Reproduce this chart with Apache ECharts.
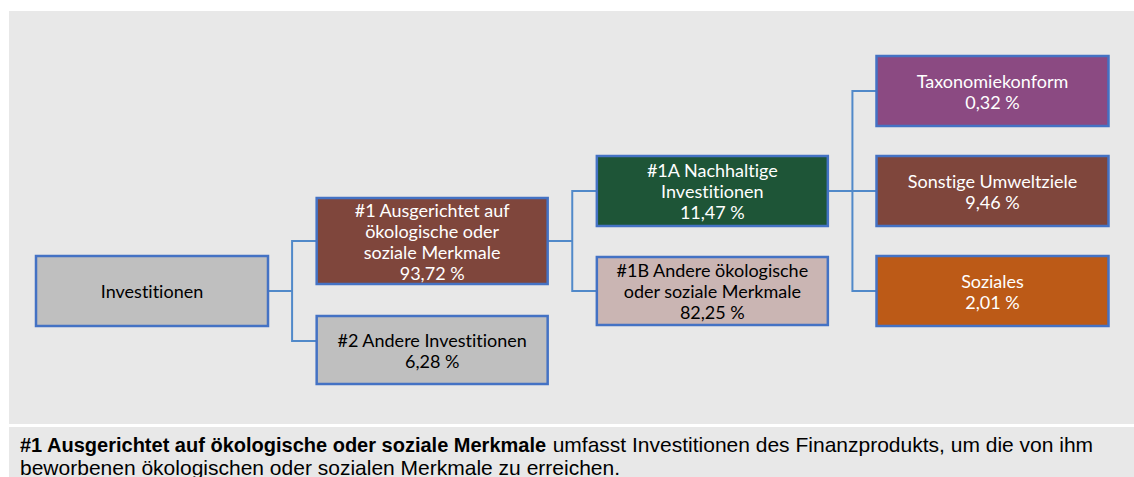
<!DOCTYPE html>
<html>
<head>
<meta charset="utf-8">
<script src="https://cdn.jsdelivr.net/npm/echarts@6/dist/echarts.min.js"></script>
<style>
  html, body { margin: 0; padding: 0; background: #fff; }
  #chart { width: 1134px; height: 477px; }
  #chart text { font-variant-ligatures: none; }
</style>
</head>
<body>
<div id="chart"></div>
<script>
const names = [
  'Investitionen',
  '#1 Ausgerichtet auf\nökologische oder\nsoziale Merkmale',
  '#2 Andere Investitionen',
  '#1A Nachhaltige\nInvestitionen',
  '#1B Andere ökologische\noder soziale Merkmale',
  'Taxonomiekonform',
  'Sonstige Umweltziele',
  'Soziales'
]
const shares = [null, 93.72, 6.28, 11.47, 82.25, 0.32, 9.46, 2.01]
const parents = [-1, 0, 0, 1, 1, 3, 3, 3]
const footnoteTitle = '#1 Ausgerichtet auf ökologische oder soziale Merkmale'
const footnoteText = ' umfasst Investitionen des Finanzprodukts, um die von ihm\nbeworbenen ökologischen oder sozialen Merkmale zu erreichen.'

// look of each box
const fills = ['#bfbfbf', '#7f463c', '#bfbfbf', '#1e5537', '#cab5b3', '#8b4a82', '#7f463c', '#bc5a17']
const textColors = ['#000', '#fff', '#000', '#fff', '#000', '#fff', '#fff', '#fff']
const boxSizes = [[232, 70], [231, 86], [231, 68], [231, 70], [231, 68], [232, 70], [232, 70], [232, 70]]
const lineH = 21

function formatShare (v) {
  return v.toFixed(2).replace('.', ',') + ' %'
}

let nodes = names.map(function (name, i) {
  let text = shares[i] == null ? name : name + '\n' + formatShare(shares[i])
  let lines = text.split('\n').length
  return {
    name: text,
    value: shares[i],
    symbolSize: boxSizes[i],
    itemStyle: { color: fills[i] },
    // the label box draws the blue frame, so the border keeps one width all round
    label: {
      color: textColors[i],
      width: boxSizes[i][0],
      padding: [(boxSizes[i][1] - lines * lineH) / 2, 0]
    },
    children: []
  }
})
for (let i = 1; i < nodes.length; i++) {
  nodes[parents[i]].children.push(nodes[i])
}
// the tree layout puts #2 a bit higher than the original box
nodes[2].symbolOffset = [0, 9]

let chart = echarts.init(document.getElementById('chart'), null, { renderer: 'svg' })
chart.setOption({
  animation: false,
  graphic: [
    { type: 'rect', z: 0, shape: { x: 9, y: 11, width: 1125, height: 413 }, style: { fill: '#e8e8e8' } },
    { type: 'rect', z: 0, shape: { x: 9, y: 427, width: 1125, height: 50 }, style: { fill: '#e8e8e8' } },
    {
      type: 'text',
      z: 1,
      x: 20,
      y: 433,
      style: {
        text: '{b|' + footnoteTitle + '}' + footnoteText,
        fill: '#000',
        fontFamily: 'Liberation Sans',
        fontSize: 21,
        lineHeight: 23,
        rich: {
          b: { fontWeight: 'bold', fontFamily: 'Liberation Sans', fontSize: 20, lineHeight: 23 }
        }
      }
    }
  ],
  series: [{
    type: 'tree',
    data: [nodes[0]],
    orient: 'LR',
    left: 152,
    right: 141.5,
    top: -9,
    height: 450,
    symbol: 'rect',
    edgeShape: 'polyline',
    edgeForkPosition: '50%',
    expandAndCollapse: false,
    initialTreeDepth: -1,
    roam: false,
    itemStyle: { borderWidth: 0 },
    lineStyle: { color: '#5189c9', width: 2 },
    label: {
      position: 'inside',
      fontFamily: 'Lato',
      fontSize: 18,
      lineHeight: lineH,
      align: 'center',
      verticalAlign: 'middle',
      borderColor: '#4472c4',
      borderWidth: 2.5
    },
    leaves: { label: { position: 'inside' } },
    emphasis: { disabled: true }
  }]
})
</script>
</body>
</html>
